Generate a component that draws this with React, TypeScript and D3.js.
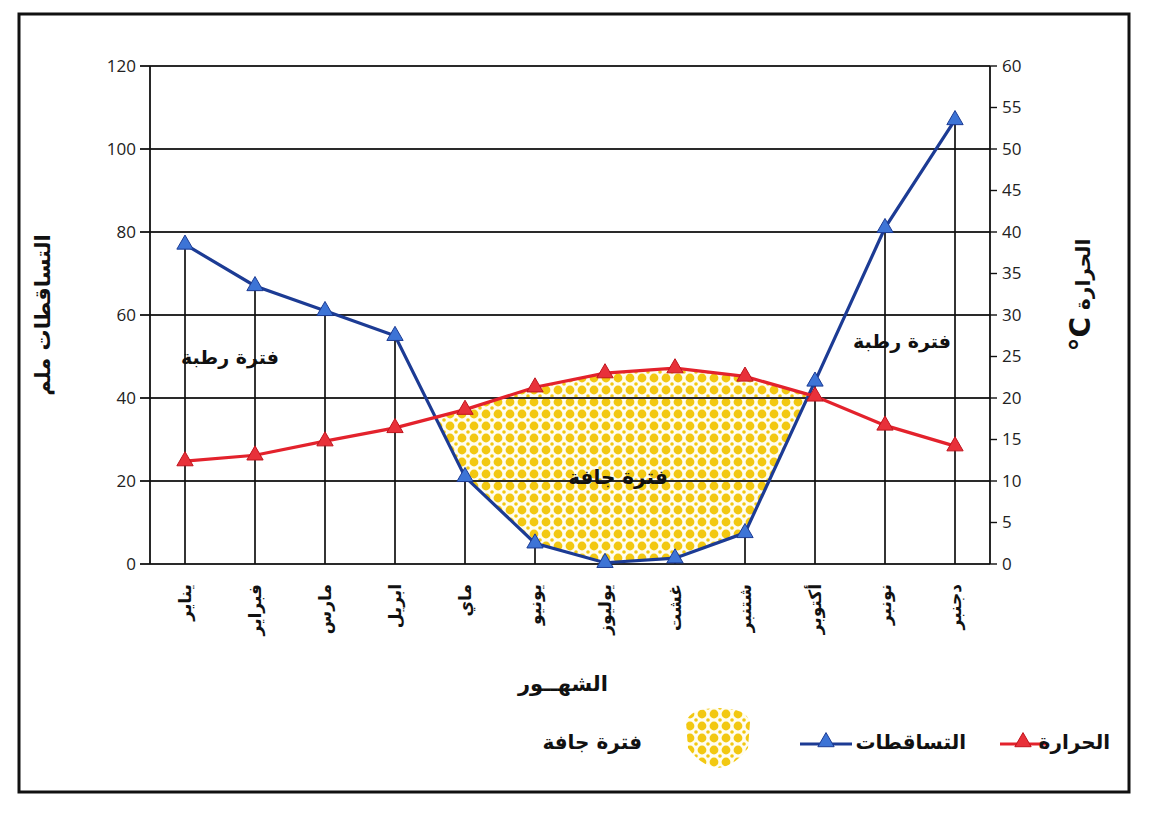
import React from 'react';
import * as d3 from 'd3';

const months = ['يناير', 'فبراير', 'مارس', 'ابريل', 'ماي', 'يونيو', 'يوليوز', 'غشت', 'شتنبر', 'أكتوبر', 'نونبر', 'دجنبر'];
const precipitation = [77, 67, 61, 55, 21, 5, 0.3, 1.4, 7.5, 44, 81, 107];
const temperature = [12.4, 13.1, 14.8, 16.4, 18.6, 21.3, 23, 23.6, 22.6, 20.2, 16.7, 14.2];
const precipTicks = [0, 20, 40, 60, 80, 100, 120];
const tempTicks = [0, 5, 10, 15, 20, 25, 30, 35, 40, 45, 50, 55, 60];

const W = 1152;
const H = 820;
const left = 150;
const right = 990;
const top = 66;
const bottom = 564;

const arabicFont = '"DejaVu Sans", "Noto Sans", sans-serif';
const numFont = '"Open Sans", "Liberation Sans", sans-serif';

export default function App() {
  const x = d3.scaleBand<string>().domain(months).range([left, right]).paddingInner(0).paddingOuter(0);
  const cx = (m: string) => (x(m) as number) + x.bandwidth() / 2;
  const yP = d3.scaleLinear().domain([0, 120]).range([bottom, top]);
  const yT = d3.scaleLinear().domain([0, 60]).range([bottom, top]);

  const pPts: [number, number][] = months.map((m, i) => [cx(m), yP(precipitation[i])]);
  const tPts: [number, number][] = months.map((m, i) => [cx(m), yT(temperature[i])]);
  const line = d3.line<[number, number]>();

  // dry area: where temperature line lies above precipitation line
  const d = months.map((_, i) => pPts[i][1] - tPts[i][1]);
  let a = -1, b = -1;
  for (let i = 0; i < months.length - 1; i++) {
    if (d[i] <= 0 && d[i + 1] > 0 && a < 0) a = i;
    if (d[i] > 0 && d[i + 1] <= 0 && a >= 0 && b < 0) b = i;
  }
  const cross = (i: number): [number, number] => {
    const f = d[i] / (d[i] - d[i + 1]);
    return [pPts[i][0] + f * (pPts[i + 1][0] - pPts[i][0]), pPts[i][1] + f * (pPts[i + 1][1] - pPts[i][1])];
  };
  const dryPoly: [number, number][] = [];
  if (a >= 0 && b >= 0) {
    dryPoly.push(cross(a));
    for (let i = a + 1; i <= b; i++) dryPoly.push(tPts[i]);
    dryPoly.push(cross(b));
    for (let i = b; i >= a + 1; i--) dryPoly.push(pPts[i]);
  }

  const tri = d3.symbol().type(d3.symbolTriangle).size(115);

  return (
    <svg width={W} height={H} style={{ position: 'absolute', left: 0, top: 0, background: '#fff' }}>
      <defs>
        <pattern id="dots" width="12" height="12" patternUnits="userSpaceOnUse">
          <rect width="12" height="12" fill="#fffdf0" />
          <circle cx="6" cy="6" r="4.4" fill="#f2c811" />
          <circle cx="0" cy="0" r="1.8" fill="#f2c811" />
          <circle cx="12" cy="0" r="1.8" fill="#f2c811" />
          <circle cx="0" cy="12" r="1.8" fill="#f2c811" />
          <circle cx="12" cy="12" r="1.8" fill="#f2c811" />
        </pattern>
      </defs>
      <rect x="0" y="0" width={W} height={H} fill="#fff" />
      <rect x={19} y={14} width={1110} height={778} fill="none" stroke="#111" strokeWidth={3} />

      {/* dry area */}
      {dryPoly.length > 0 && <path d={line(dryPoly) + 'Z'} fill="url(#dots)" stroke="none" />}

      {/* gridlines */}
      {precipTicks.map((v) => (
        <line key={'g' + v} x1={left - 10} x2={right} y1={yP(v)} y2={yP(v)} stroke="#2a2a2a" strokeWidth={1.8} />
      ))}
      {/* left axis */}
      <line x1={left} x2={left} y1={top} y2={bottom} stroke="#111" strokeWidth={1.8} />
      {precipTicks.map((v) => (
        <text key={'pl' + v} x={left - 14} y={yP(v)} dy="0.35em" textAnchor="end" fontFamily={numFont} fontSize={17} fill="#222">
          {v}
        </text>
      ))}
      {/* right axis */}
      <line x1={right} x2={right} y1={top} y2={bottom} stroke="#111" strokeWidth={1.8} />
      {tempTicks.map((v) => (
        <g key={'tr' + v}>
          <line x1={right} x2={right + 7} y1={yT(v)} y2={yT(v)} stroke="#111" strokeWidth={1.4} />
          <text x={right + 12} y={yT(v)} dy="0.35em" textAnchor="start" fontFamily={numFont} fontSize={17} fill="#222">
            {v}
          </text>
        </g>
      ))}

      {/* vertical drop lines */}
      {months.map((m, i) => (
        <line key={'v' + m} x1={cx(m)} x2={cx(m)} y1={yP(precipitation[i])} y2={bottom} stroke="#111" strokeWidth={1.7} />
      ))}

      {/* precipitation line */}
      <path d={line(pPts) as string} fill="none" stroke="#1c3b94" strokeWidth={3.2} />
      {pPts.map((p, i) => (
        <path key={'pm' + i} d={tri() as string} transform={`translate(${p[0]},${p[1]})`} fill="#3d74d6" stroke="#1c3b94" strokeWidth={1} />
      ))}
      {/* temperature line */}
      <path d={line(tPts) as string} fill="none" stroke="#e3222c" strokeWidth={3.2} />
      {tPts.map((p, i) => (
        <path key={'tm' + i} d={tri() as string} transform={`translate(${p[0]},${p[1]})`} fill="#e8313a" stroke="#c0141d" strokeWidth={1} />
      ))}

      {/* in-chart labels */}
      <text x={230} y={364} textAnchor="middle" fontFamily={arabicFont} fontSize={19} fontWeight="bold" fill="#111">فترة رطبة</text>
      <text x={902} y={348} textAnchor="middle" fontFamily={arabicFont} fontSize={19} fontWeight="bold" fill="#111">فترة رطبة</text>
      <text x={618} y={484} textAnchor="middle" fontFamily={arabicFont} fontSize={20} fontWeight="bold" fill="#111">فترة جافة</text>

      {/* month labels */}
      {months.map((m) => (
        <text key={'ml' + m} transform={`translate(${cx(m) + 6},${bottom + 20}) rotate(-90)`} textAnchor="end" fontFamily={arabicFont} fontSize={17} fontWeight="bold" fill="#111">
          {m}
        </text>
      ))}

      {/* axis titles */}
      <text x={563} y={691} textAnchor="middle" fontFamily={arabicFont} fontSize={21} fontWeight="bold" fill="#111">الشهــور</text>
      <text transform={`translate(50,315) rotate(-90)`} textAnchor="middle" fontFamily={arabicFont} fontSize={21} fontWeight="bold" fill="#111">التساقطات ملم</text>
      <text transform={`translate(1090,295) rotate(-90)`} textAnchor="middle" fontFamily={arabicFont} fontWeight="bold" fill="#111">
        <tspan fontSize={28}>°C</tspan>
        <tspan fontSize={20}> الحرارة</tspan>
      </text>

      {/* legend */}
      <line x1={1000} x2={1046} y1={744} y2={744} stroke="#e3222c" strokeWidth={3.2} />
      <path d={tri() as string} transform="translate(1023,742)" fill="#e8313a" stroke="#c0141d" strokeWidth={1} />
      <text x={1110} y={749} textAnchor="end" fontFamily={arabicFont} fontSize={20} fontWeight="bold" fill="#111">الحرارة</text>

      <line x1={800} x2={852} y1={744} y2={744} stroke="#1c3b94" strokeWidth={3.2} />
      <path d={tri() as string} transform="translate(826,742)" fill="#3d74d6" stroke="#1c3b94" strokeWidth={1} />
      <text x={966} y={749} textAnchor="end" fontFamily={arabicFont} fontSize={20} fontWeight="bold" fill="#111">التساقطات</text>

      <path d="M686,722 Q690,708 718,708 Q746,708 750,722 L748,748 Q735,766 718,768 Q701,766 688,748 Z" fill="url(#dots)" />
      <text x={642} y={749} textAnchor="end" fontFamily={arabicFont} fontSize={20} fontWeight="bold" fill="#111">فترة جافة</text>
    </svg>
  );
}
